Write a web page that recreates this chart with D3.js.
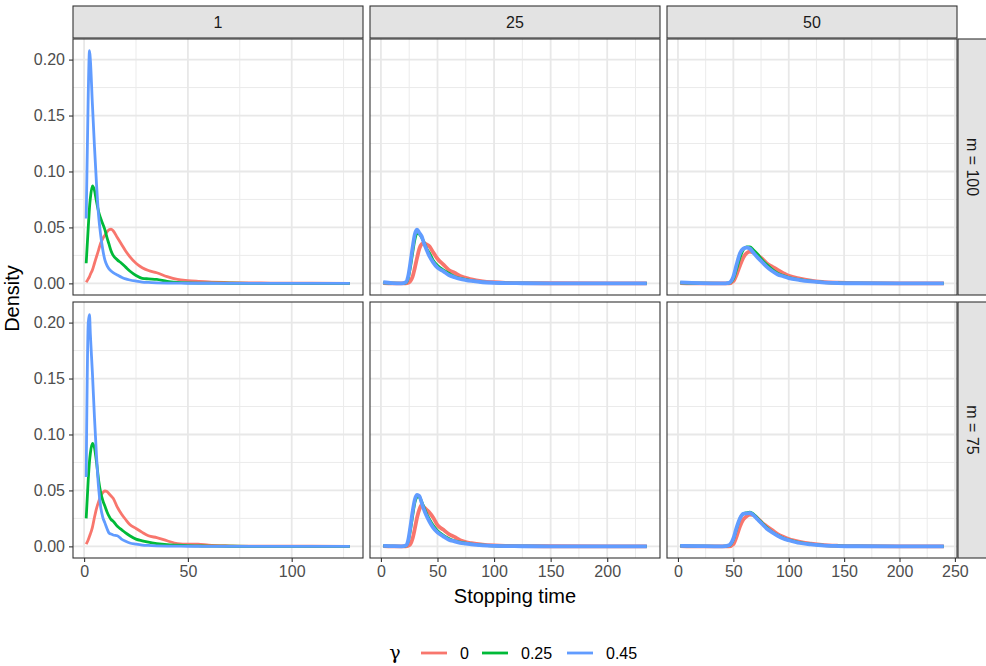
<!DOCTYPE html>
<meta charset="utf-8">
<style>
  body { margin: 0; background: #fff; }
  text { font-family: "Liberation Sans", Arial, sans-serif; }
</style>
<body>
<script src="https://d3js.org/d3.v7.min.js"></script>
<script>

// facet labels and legend
var colLabels = ["1", "25", "50"];
var rowLabels = ["m = 100", "m = 75"];
var gammaLabels = ["0", "0.25", "0.45"];
var gammaColors = ["#F8766D", "#00BA38", "#619CFF"];

// x positions the densities were read at (one grid per column)
var xGrid1 = [1, 2, 2.6, 3, 4, 5, 6, 7, 8, 9, 10, 11, 12, 13, 14, 16, 18, 20, 22, 25, 28, 31, 35, 40, 45, 50, 55, 60, 70, 80, 90, 100, 110, 128];
var xGrid25 = [2, 10, 18, 22, 24, 26, 28, 30, 32, 34, 36, 38, 40, 43, 46, 50, 55, 60, 65, 70, 75, 80, 90, 100, 110, 125, 150, 200, 235];
var xGrid50 = [2, 20, 40, 46, 50, 53, 56, 59, 62, 65, 68, 72, 76, 80, 85, 90, 95, 100, 110, 120, 130, 145, 160, 200, 240];

// m = 100, column 1
var m100_c1_g0  = [0.001, 0.004, 0.006, 0.008, 0.012, 0.018, 0.024, 0.030, 0.036, 0.040, 0.043, 0.046, 0.048, 0.0485, 0.047, 0.041, 0.035, 0.029, 0.024, 0.018, 0.014, 0.0115, 0.0095, 0.006, 0.0035, 0.0025, 0.0018, 0.0012, 0.0007, 0.0004, 0.0003, 0.0002, 0.0001, 0];
var m100_c1_g25 = [0.018, 0.05, 0.068, 0.076, 0.087, 0.083, 0.073, 0.064, 0.058, 0.053, 0.048, 0.041, 0.035, 0.029, 0.025, 0.021, 0.018, 0.0145, 0.011, 0.007, 0.0045, 0.004, 0.0035, 0.0017, 0.0009, 0.0005, 0.0003, 0.0002, 0.0001, 0, 0, 0, 0, 0];
var m100_c1_g45 = [0.058, 0.17, 0.208, 0.200, 0.160, 0.122, 0.088, 0.060, 0.043, 0.030, 0.021, 0.016, 0.013, 0.011, 0.0095, 0.0075, 0.0055, 0.004, 0.003, 0.002, 0.0012, 0.0008, 0.0005, 0.0003, 0.0002, 0.0001, 0.0001, 0.0001, 0, 0, 0, 0, 0, 0];

// m = 75, column 1
var m75_c1_g0  = [0.002, 0.006, 0.009, 0.011, 0.017, 0.026, 0.034, 0.040, 0.045, 0.048, 0.0495, 0.049, 0.047, 0.045, 0.043, 0.035, 0.029, 0.024, 0.0195, 0.016, 0.0125, 0.0095, 0.0078, 0.005, 0.0025, 0.002, 0.002, 0.001, 0.0005, 0.0003, 0.0003, 0.0002, 0.0001, 0];
var m75_c1_g25 = [0.025, 0.06, 0.076, 0.083, 0.092, 0.088, 0.075, 0.059, 0.048, 0.041, 0.036, 0.031, 0.027, 0.024, 0.0225, 0.018, 0.015, 0.012, 0.0095, 0.0065, 0.005, 0.0037, 0.0025, 0.0015, 0.001, 0.0006, 0.0004, 0.0002, 0.0001, 0, 0, 0, 0, 0];
var m75_c1_g45 = [0.062, 0.200, 0.207, 0.190, 0.155, 0.115, 0.080, 0.052, 0.035, 0.026, 0.021, 0.016, 0.012, 0.011, 0.0102, 0.0095, 0.0065, 0.0045, 0.003, 0.002, 0.0012, 0.0008, 0.0005, 0.0003, 0.0002, 0.0001, 0.0001, 0, 0, 0, 0, 0, 0, 0];

// m = 100, column 25
var m100_c25_g0  = [0.0003, 0, 0, 0, 0.0005, 0.002, 0.006, 0.014, 0.023, 0.031, 0.035, 0.036, 0.035, 0.033, 0.028, 0.022, 0.017, 0.012, 0.0095, 0.0065, 0.005, 0.0035, 0.0018, 0.001, 0.0005, 0.0002, 0.0001, 0, 0];
var m100_c25_g25 = [0.0005, 0.0001, 0, 0.0005, 0.004, 0.014, 0.027, 0.039, 0.045, 0.044, 0.041, 0.037, 0.032, 0.027, 0.021, 0.016, 0.012, 0.009, 0.0062, 0.0045, 0.0035, 0.0025, 0.0012, 0.0006, 0.0003, 0.0001, 0, 0, 0];
var m100_c25_g45 = [0.001, 0.0002, 0, 0.001, 0.006, 0.018, 0.032, 0.044, 0.048, 0.045, 0.042, 0.036, 0.031, 0.024, 0.019, 0.014, 0.011, 0.0075, 0.0055, 0.004, 0.003, 0.0022, 0.001, 0.0005, 0.0003, 0.0001, 0, 0, 0];

// m = 75, column 25
var m75_c25_g0  = [0.0003, 0, 0, 0, 0.0005, 0.002, 0.007, 0.016, 0.026, 0.033, 0.037, 0.035, 0.033, 0.030, 0.026, 0.019, 0.015, 0.011, 0.0085, 0.0055, 0.0038, 0.0028, 0.0015, 0.0008, 0.0004, 0.0002, 0.0001, 0, 0];
var m75_c25_g25 = [0.0004, 0.0001, 0, 0.0005, 0.004, 0.014, 0.027, 0.039, 0.044, 0.044, 0.040, 0.035, 0.030, 0.024, 0.019, 0.014, 0.010, 0.007, 0.005, 0.0038, 0.0028, 0.002, 0.001, 0.0005, 0.0002, 0.0001, 0, 0, 0];
var m75_c25_g45 = [0.0005, 0.0002, 0, 0.0008, 0.005, 0.017, 0.031, 0.042, 0.046, 0.045, 0.039, 0.033, 0.028, 0.022, 0.017, 0.0125, 0.009, 0.006, 0.0045, 0.0032, 0.0025, 0.0018, 0.0009, 0.0004, 0.0002, 0.0001, 0, 0, 0];

// m = 100, column 50
var m100_c50_g0  = [0.0003, 0, 0, 0, 0.002, 0.008, 0.016, 0.023, 0.027, 0.0284, 0.0275, 0.025, 0.022, 0.018, 0.015, 0.012, 0.0092, 0.0067, 0.0042, 0.0025, 0.0014, 0.0006, 0.0002, 0, 0];
var m100_c50_g25 = [0.0005, 0.0001, 0, 0.0003, 0.004, 0.013, 0.023, 0.030, 0.0325, 0.0325, 0.030, 0.026, 0.021, 0.017, 0.0125, 0.009, 0.007, 0.0052, 0.0033, 0.002, 0.001, 0.0004, 0.0001, 0, 0];
var m100_c50_g45 = [0.0008, 0.0002, 0, 0.0005, 0.006, 0.017, 0.027, 0.031, 0.032, 0.031, 0.0275, 0.023, 0.019, 0.015, 0.011, 0.008, 0.0063, 0.0047, 0.003, 0.0018, 0.0009, 0.0003, 0.0001, 0, 0];

// m = 75, column 50
var m75_c50_g0  = [0.0003, 0, 0, 0, 0.002, 0.009, 0.018, 0.024, 0.027, 0.0285, 0.028, 0.025, 0.021, 0.018, 0.0145, 0.011, 0.0085, 0.0065, 0.004, 0.0025, 0.0013, 0.0005, 0.0002, 0, 0];
var m75_c50_g25 = [0.0004, 0.0001, 0, 0.0006, 0.006, 0.016, 0.025, 0.029, 0.030, 0.0305, 0.029, 0.025, 0.021, 0.017, 0.013, 0.010, 0.0075, 0.0058, 0.0033, 0.002, 0.001, 0.0004, 0.0001, 0, 0];
var m75_c50_g45 = [0.0005, 0.0002, 0, 0.001, 0.007, 0.017, 0.025, 0.029, 0.0295, 0.0298, 0.028, 0.024, 0.020, 0.016, 0.0125, 0.0095, 0.007, 0.0055, 0.003, 0.0018, 0.0008, 0.0003, 0.0001, 0, 0];

var xGrids = [xGrid1, xGrid25, xGrid50];
var panelSeries = [
  [[m100_c1_g0, m100_c1_g25, m100_c1_g45], [m100_c25_g0, m100_c25_g25, m100_c25_g45], [m100_c50_g0, m100_c50_g25, m100_c50_g45]],
  [[m75_c1_g0, m75_c1_g25, m75_c1_g45], [m75_c25_g0, m75_c25_g25, m75_c25_g45], [m75_c50_g0, m75_c50_g25, m75_c50_g45]]
];

// layout
var W = 986, H = 666;
var panelLeft = 73, panelTop = 39, panelW = 290, panelH = 256, gap = 7, stripH = 32;

var svg = d3.select("body").append("svg")
    .attr("width", W)
    .attr("height", H);

// y scale shared by every panel, 5% expansion like ggplot
var yMax = d3.max(panelSeries.flat(3));
var y = d3.scaleLinear()
    .domain([-0.05 * yMax, 1.05 * yMax])
    .range([panelH, 0]);

// one x scale per column (free x)
var xs = xGrids.map(function(g) {
  var lo = d3.min(g), hi = d3.max(g), r = hi - lo;
  return d3.scaleLinear().domain([lo - 0.05 * r, hi + 0.05 * r]).range([0, panelW]);
});

var yMajor = y.ticks(5);
var yMinor = d3.range(0.025, y.domain()[1], 0.05);

var line = d3.line().curve(d3.curveMonotoneX);

rowLabels.forEach(function(rl, r) {
  colLabels.forEach(function(cl, c) {
    var x = xs[c];
    var px = panelLeft + c * (panelW + gap), py = panelTop + r * (panelH + gap);
    var g = svg.append("g").attr("transform", "translate(" + px + "," + py + ")");

    g.append("rect").attr("width", panelW).attr("height", panelH).attr("fill", "#fff");

    var xMajor = x.ticks(4);
    var step = xMajor[1] - xMajor[0];
    var xMinor = d3.range(xMajor[0] - step / 2, x.domain()[1], step)
        .filter(function(v) { return v > x.domain()[0]; });

    // minor grid
    g.selectAll(".ymin").data(yMinor).enter().append("line")
        .attr("x1", 0).attr("x2", panelW)
        .attr("y1", y).attr("y2", y)
        .attr("stroke", "#ebebeb").attr("stroke-width", 1);
    g.selectAll(".xmin").data(xMinor).enter().append("line")
        .attr("y1", 0).attr("y2", panelH)
        .attr("x1", x).attr("x2", x)
        .attr("stroke", "#ebebeb").attr("stroke-width", 1);
    // major grid
    g.selectAll(".ymaj").data(yMajor).enter().append("line")
        .attr("x1", 0).attr("x2", panelW)
        .attr("y1", y).attr("y2", y)
        .attr("stroke", "#e8e8e8").attr("stroke-width", 1.8);
    g.selectAll(".xmaj").data(xMajor).enter().append("line")
        .attr("y1", 0).attr("y2", panelH)
        .attr("x1", x).attr("x2", x)
        .attr("stroke", "#e8e8e8").attr("stroke-width", 1.8);

    // density lines
    panelSeries[r][c].forEach(function(vals, k) {
      var pts = xGrids[c].map(function(xv, i) { return [x(xv), y(vals[i])]; });
      var sw = (c > 0 && k != 1) ? 3.8 : 2.8;
      g.append("path")
          .attr("d", line(pts))
          .attr("fill", "none")
          .attr("stroke", gammaColors[k])
          .attr("stroke-width", sw)
          .attr("stroke-linejoin", "round");
    });

    g.append("rect").attr("width", panelW).attr("height", panelH)
        .attr("fill", "none").attr("stroke", "#333").attr("stroke-width", 1.1);

    // y axis on first column
    if (c == 0) {
      var ya = g.append("g").call(d3.axisLeft(y).tickValues(yMajor).tickFormat(d3.format(".2f")).tickSize(4).tickPadding(4));
      ya.select(".domain").remove();
      ya.selectAll("line").attr("stroke", "#333").attr("stroke-width", 1.1);
      ya.selectAll("text").attr("fill", "#4d4d4d").style("font-size", "16px");
    }
    // x axis on bottom row
    if (r == rowLabels.length - 1) {
      var xa = g.append("g").attr("transform", "translate(0," + panelH + ")")
          .call(d3.axisBottom(x).tickValues(xMajor).tickSize(4).tickPadding(4));
      xa.select(".domain").remove();
      xa.selectAll("line").attr("stroke", "#333").attr("stroke-width", 1.1);
      xa.selectAll("text").attr("fill", "#4d4d4d").style("font-size", "16px");
    }

    // top strip
    if (r == 0) {
      svg.append("rect")
          .attr("x", px).attr("y", panelTop - stripH - 1)
          .attr("width", panelW).attr("height", stripH)
          .attr("fill", "#e3e3e3").attr("stroke", "#333").attr("stroke-width", 1.1);
      svg.append("text")
          .attr("x", px + panelW / 2).attr("y", panelTop - stripH / 2 - 1)
          .attr("dy", "0.36em")
          .attr("text-anchor", "middle")
          .attr("fill", "#1a1a1a")
          .style("font-size", "16px")
          .text(cl);
    }
  });

  // right strip
  var sx = panelLeft + colLabels.length * (panelW + gap) - gap + 1;
  var sy = panelTop + r * (panelH + gap);
  svg.append("rect")
      .attr("x", sx).attr("y", sy)
      .attr("width", stripH).attr("height", panelH)
      .attr("fill", "#e3e3e3").attr("stroke", "#333").attr("stroke-width", 1.1);
  svg.append("text")
      .attr("transform", "translate(" + (sx + stripH / 2 - 1) + "," + (sy + panelH / 2) + ") rotate(90)")
      .attr("dy", "0.36em")
      .attr("text-anchor", "middle")
      .attr("fill", "#1a1a1a")
      .style("font-size", "16px")
      .text(rl);
});

// axis titles
var plotRight = panelLeft + colLabels.length * (panelW + gap) - gap;
var plotBottom = panelTop + rowLabels.length * (panelH + gap) - gap;
svg.append("text")
    .attr("x", (panelLeft + plotRight) / 2).attr("y", 603)
    .attr("text-anchor", "middle")
    .attr("fill", "#000")
    .style("font-size", "20px")
    .text("Stopping time");
svg.append("text")
    .attr("transform", "translate(19," + (panelTop + plotBottom) / 2 + ") rotate(-90)")
    .attr("text-anchor", "middle")
    .attr("fill", "#000")
    .style("font-size", "20px")
    .text("Density");

// legend
var legY = 653;
var leg = svg.append("g");
leg.append("text")
    .attr("x", 395).attr("y", legY).attr("dy", "0.3em")
    .attr("text-anchor", "middle")
    .style("font-family", "'DejaVu Serif', serif")
    .style("font-size", "19px")
    .text("\u03b3");
var legX = [421, 482, 567];
gammaLabels.forEach(function(lab, k) {
  leg.append("line")
      .attr("x1", legX[k]).attr("x2", legX[k] + 26)
      .attr("y1", legY).attr("y2", legY)
      .attr("stroke", gammaColors[k]).attr("stroke-width", 2.8);
  leg.append("text")
      .attr("x", legX[k] + 39).attr("y", legY).attr("dy", "0.36em")
      .attr("fill", "#000")
      .style("font-size", "16px")
      .text(lab);
});

</script>
</body>
